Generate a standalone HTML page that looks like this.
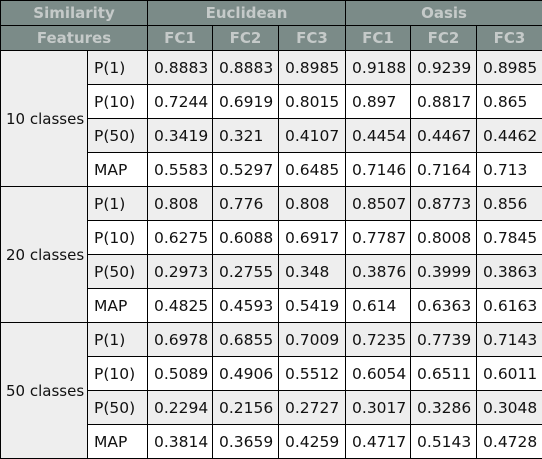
<!DOCTYPE html>
<html><head><meta charset="utf-8"><style>
html,body{margin:0;padding:0;background:#fff;width:542px;height:459px;overflow:hidden}
table{border-collapse:collapse;table-layout:fixed;width:542px;font-family:"DejaVu Sans","Liberation Sans",sans-serif;font-size:15.5px;color:#111}
td,th{border:1px solid #000;padding:0 0 0 6px;text-align:left;overflow:hidden;white-space:nowrap}
th{background:#7b8b88;color:#c5cac9;font-weight:bold;text-align:center;padding:0;height:24px;font-size:15px}
tr.d td{height:33px;background:#fff}
tr.g td{background:#eeeeee}
td.grp{background:#eeeeee !important;padding-left:5px;font-size:15px}
</style></head><body>
<table>
<colgroup><col style="width:87px"><col style="width:60px"><col style="width:65px"><col style="width:66px"><col style="width:67px"><col style="width:65px"><col style="width:66px"><col style="width:66px"></colgroup>
<tr><th colspan="2">Similarity</th><th colspan="3">Euclidean</th><th colspan="3">Oasis</th></tr>
<tr><th colspan="2">Features</th><th>FC1</th><th>FC2</th><th>FC3</th><th>FC1</th><th>FC2</th><th>FC3</th></tr>

<tr class="d g"><td rowspan="4" class="grp">10 classes</td><td>P(1)</td><td>0.8883</td><td>0.8883</td><td>0.8985</td><td>0.9188</td><td>0.9239</td><td>0.8985</td></tr>
<tr class="d"><td>P(10)</td><td>0.7244</td><td>0.6919</td><td>0.8015</td><td>0.897</td><td>0.8817</td><td>0.865</td></tr>
<tr class="d g"><td>P(50)</td><td>0.3419</td><td>0.321</td><td>0.4107</td><td>0.4454</td><td>0.4467</td><td>0.4462</td></tr>
<tr class="d"><td>MAP</td><td>0.5583</td><td>0.5297</td><td>0.6485</td><td>0.7146</td><td>0.7164</td><td>0.713</td></tr>

<tr class="d g"><td rowspan="4" class="grp">20 classes</td><td>P(1)</td><td>0.808</td><td>0.776</td><td>0.808</td><td>0.8507</td><td>0.8773</td><td>0.856</td></tr>
<tr class="d"><td>P(10)</td><td>0.6275</td><td>0.6088</td><td>0.6917</td><td>0.7787</td><td>0.8008</td><td>0.7845</td></tr>
<tr class="d g"><td>P(50)</td><td>0.2973</td><td>0.2755</td><td>0.348</td><td>0.3876</td><td>0.3999</td><td>0.3863</td></tr>
<tr class="d"><td>MAP</td><td>0.4825</td><td>0.4593</td><td>0.5419</td><td>0.614</td><td>0.6363</td><td>0.6163</td></tr>

<tr class="d g"><td rowspan="4" class="grp">50 classes</td><td>P(1)</td><td>0.6978</td><td>0.6855</td><td>0.7009</td><td>0.7235</td><td>0.7739</td><td>0.7143</td></tr>
<tr class="d"><td>P(10)</td><td>0.5089</td><td>0.4906</td><td>0.5512</td><td>0.6054</td><td>0.6511</td><td>0.6011</td></tr>
<tr class="d g"><td>P(50)</td><td>0.2294</td><td>0.2156</td><td>0.2727</td><td>0.3017</td><td>0.3286</td><td>0.3048</td></tr>
<tr class="d"><td>MAP</td><td>0.3814</td><td>0.3659</td><td>0.4259</td><td>0.4717</td><td>0.5143</td><td>0.4728</td></tr>
</table>
</body></html>
